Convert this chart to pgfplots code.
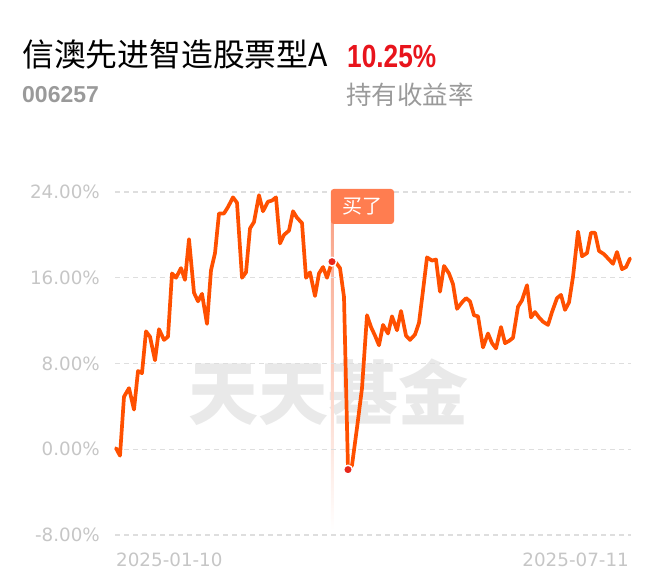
\documentclass[border=0pt]{standalone}
\usepackage{pgfplots}
\pgfplotsset{compat=1.18}
\usepackage{fontspec}
\setmainfont{DejaVu Sans}
\newfontfamily\cjk{Noto Sans CJK SC}
\newfontfamily\lib{Liberation Sans}
\definecolor{lineorange}{HTML}{FF5000}
\definecolor{retred}{HTML}{E8141C}
\definecolor{subgray}{HTML}{9A9A9A}
\definecolor{tickgray}{HTML}{C6C6C6}
\definecolor{gridgray}{HTML}{DEDEDE}
\definecolor{buybox}{HTML}{FF7D50}
\definecolor{buyline}{HTML}{F9A58A}
\definecolor{wmgray}{HTML}{E9E9E9}
\definecolor{dotred}{HTML}{E8261A}
\begin{document}
\begin{tikzpicture}[x=1pt,y=1pt]
\path (0,0) rectangle (660,585);
% header
\node[anchor=base west, inner sep=0pt] at (22,518) {\cjk\fontsize{31.8}{31.8}\selectfont 信澳先进智造股票型A};
\node[anchor=base west, inner sep=0pt, text=retred] at (347,517) {\scalebox{0.82}[1]{\lib\bfseries\fontsize{32}{32}\selectfont 10.25\%}};
\node[anchor=base west, inner sep=0pt, text=subgray] at (22,482) {\lib\bfseries\fontsize{23}{23}\selectfont 006257};
\node[anchor=base west, inner sep=0pt, text=subgray] at (346,480) {\cjk\fontsize{25.5}{25.5}\selectfont 持有收益率};
% watermark
\node[anchor=west, inner sep=0pt, text=wmgray] at (188,193) {\cjk\bfseries\fontsize{70}{70}\selectfont 天天基金};
% buy line
\shade[top color=buyline, bottom color=white] (330.8,55) rectangle (333.4,362);
\begin{axis}[
  at={(115pt,50pt)}, anchor=south west,
  scale only axis, width=516pt, height=343pt,
  xmin=115, xmax=631, ymin=-8, ymax=24,
  axis line style={draw=none},
  xtick=\empty,
  ytick={-8,0,8,16,24},
  yticklabels={-8.00\%,0.00\%,8.00\%,16.00\%,24.00\%},
  yticklabel style={font=\fontsize{18.3}{18.3}\selectfont, text=tickgray, inner sep=0pt, xshift=-15pt},
  major tick length=0pt,
  ymajorgrids,
  grid style={gridgray, line width=1.2pt, dash pattern=on 5pt off 4pt},
  clip=false,
]
\addplot[lineorange, line width=3.7pt, line join=round, line cap=round] coordinates {
(116,0.1) (120,-0.6) (124,4.9) (129,5.7) (134,3.7) (138,7.3) (142,7.1) (146,11.0) (150,10.5) (155,8.3)
(159,11.2) (164,10.2) (168,10.5) (172,16.4) (176,16.0) (181,16.9) (185,15.8) (189,19.6) (194,14.6) (198,13.8)
(202,14.5) (207,11.7) (211,16.7) (215,18.3) (219,22.0) (224,22.0) (228,22.6) (233,23.5) (237,23.0) (242,16.0)
(246,16.5) (250,20.6) (254,21.2) (259,23.7) (263,22.2) (268,23.1) (272,23.2) (276,23.5) (280,19.2) (284,20.0)
(289,20.4) (293,22.2) (297,21.6) (302,21.1) (306,16.0) (310,16.5) (315,14.3) (319,16.4) (323,17.0) (327,16.0)
(332,17.5) (336,17.4) (340,16.9) (344,14.2) (348,-1.9) (352,-1.5) (357,2.0) (362,5.7) (367,12.5) (371,11.4)
(375,10.6) (379,9.7) (383,11.6) (388,10.8) (392,12.4) (397,11.1) (401,12.9) (406,10.6) (410,10.2) (415,10.7)
(419,11.8) (423,14.8) (427,17.9) (432,17.6) (436,17.7) (440,14.7) (444,17.1) (449,16.4) (453,15.4) (457,13.1)
(462,13.7) (466,14.1) (470,13.8) (474,12.5) (478,12.4) (483,9.5) (488,10.8) (492,9.9) (496,9.4) (501,11.4)
(505,9.9) (509,10.1) (513,10.4) (518,13.3) (522,13.9) (527,15.3) (531,12.3) (535,12.8) (539,12.3) (543,11.9)
(548,11.6) (552,12.8) (557,14.1) (561,14.4) (565,13.0) (569,13.7) (573,16.1) (578,20.3) (582,18.0) (587,18.3)
(591,20.2) (595,20.2) (599,18.5) (604,18.2) (608,17.8) (613,17.3) (617,18.4) (622,16.8) (626,17.0) (630,17.8)
};
\addplot[only marks, mark=*, mark size=4.4pt, mark options={fill=dotred, draw=white, line width=1.4pt}] coordinates {(332,17.5) (348,-1.9)};
\node[anchor=base west, inner sep=0pt, text=tickgray, font=\fontsize{18.3}{18.3}\selectfont] at (rel axis cs:0,0) [yshift=-31pt, xshift=1pt] {2025-01-10};
\node[anchor=base east, inner sep=0pt, text=tickgray, font=\fontsize{18.3}{18.3}\selectfont] at (rel axis cs:1,0) [yshift=-31pt, xshift=-2pt] {2025-07-11};
\end{axis}
% buy label
\fill[buybox, rounded corners=3pt] (330.8,361) rectangle (394,396);
\node[text=white, inner sep=0pt] at (362.4,378.5) {\cjk\fontsize{20}{20}\selectfont 买了};
\end{tikzpicture}
\end{document}
